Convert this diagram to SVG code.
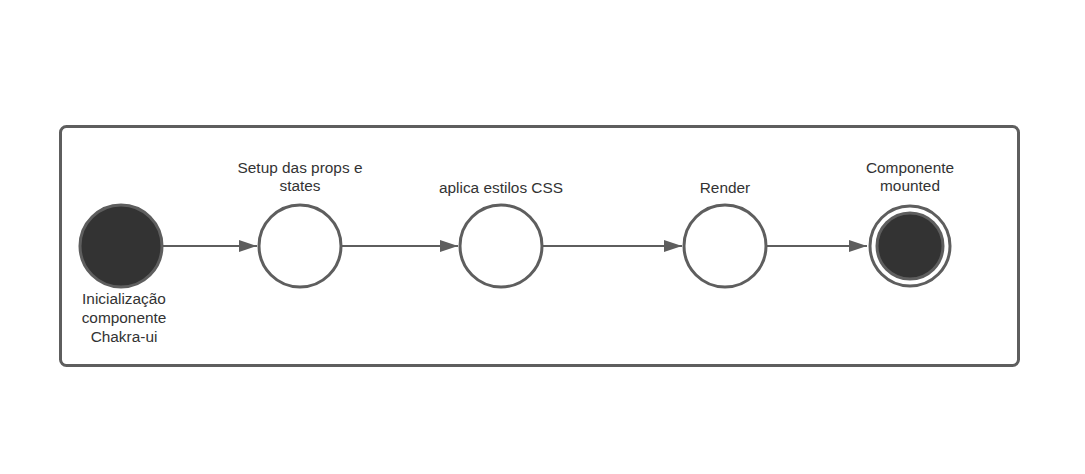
<svg xmlns="http://www.w3.org/2000/svg" width="1085" height="474" viewBox="0 0 1085 474">
<style>
.t{font-family:"Liberation Sans",Arial,sans-serif;font-size:15.4px;fill:#333;text-anchor:middle}
.st{fill:#fff;stroke:#5e5e5e;stroke-width:3}
.dk{fill:#333;stroke:#5e5e5e;stroke-width:3}
.c{stroke:#5e5e5e;stroke-width:2;fill:none}
</style>
<defs>
<marker id="a" markerWidth="18" markerHeight="12" refX="18" refY="6" orient="auto" markerUnits="userSpaceOnUse">
<path d="M0,0 L18,6 L0,12 Z" fill="#5e5e5e"/>
</marker>
</defs>
<rect width="1085" height="474" fill="#fff"/>
<g id="frame"><rect x="60.5" y="126.5" width="958" height="239" rx="6" fill="none" stroke="#5e5e5e" stroke-width="3"/></g>
<g id="connectors">
<line class="c" x1="163" y1="246" x2="257" y2="246" marker-end="url(#a)"/>
<line class="c" x1="342" y1="246" x2="458" y2="246" marker-end="url(#a)"/>
<line class="c" x1="543" y1="246" x2="682" y2="246" marker-end="url(#a)"/>
<line class="c" x1="767" y1="246" x2="867" y2="246" marker-end="url(#a)"/>
</g>
<g id="start">
<circle class="dk" cx="121" cy="246" r="41"/>
<text class="t" x="124" y="304">Inicialização</text>
<text class="t" x="124" y="323">componente</text>
<text class="t" x="124" y="342">Chakra-ui</text>
</g>
<g id="setup">
<circle class="st" cx="300" cy="246" r="41"/>
<text class="t" x="300" y="173">Setup das props e</text>
<text class="t" x="300" y="191">states</text>
</g>
<g id="css">
<circle class="st" cx="501" cy="246" r="41"/>
<text class="t" x="501" y="193">aplica estilos CSS</text>
</g>
<g id="render">
<circle class="st" cx="725" cy="246" r="41"/>
<text class="t" x="725" y="193">Render</text>
</g>
<g id="end">
<circle cx="910" cy="246" r="40" fill="#fff" stroke="#5e5e5e" stroke-width="3"/>
<circle class="dk" cx="910" cy="246" r="33"/>
<text class="t" x="910" y="173">Componente</text>
<text class="t" x="910" y="191">mounted</text>
</g>
</svg>
